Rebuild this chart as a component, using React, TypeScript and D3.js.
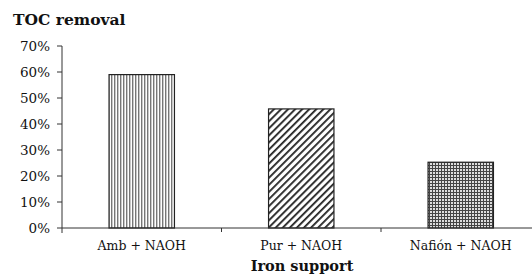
import React from "react";
import * as d3 from "d3";

// data
const supports = ["Amb + NAOH", "Pur + NAOH", "Nafión + NAOH"];
const tocRemoval = [0.59, 0.458, 0.253];
const yTicks = [0, 0.1, 0.2, 0.3, 0.4, 0.5, 0.6, 0.7];
const patterns = ["vstripe", "diag", "grid"];

const W = 532;
const H = 275;
const font = "DejaVu Serif, serif";

export default function App() {
  const x = d3.scaleBand<string>().domain(supports).range([62, 540.5]).paddingInner(0.59).paddingOuter(0.295);
  const y = d3.scaleLinear().domain([0, 0.7]).range([228, 46]);
  const fmt = d3.format(".0%");
  const step = x.step();
  const x0 = x.range()[0];

  return (
    <svg width={W} height={H} fontFamily={font} style={{ position: "absolute", left: 0, top: 0, background: "#fff" }}>
      <defs>
        <pattern id="vstripe" width={3} height={4} patternUnits="userSpaceOnUse">
          <rect width={3} height={4} fill="#fff" />
          <rect width={1.4} height={4} fill="#777" />
        </pattern>
        <pattern id="diag" width={5} height={5} patternUnits="userSpaceOnUse" patternTransform="rotate(45)">
          <rect width={5} height={5} fill="#fff" />
          <rect width={1.8} height={5} fill="#222" />
        </pattern>
        <pattern id="grid" width={3} height={3} patternUnits="userSpaceOnUse">
          <rect width={3} height={3} fill="#ddd" />
          <rect width={3} height={1} fill="#444" />
          <rect width={1} height={3} fill="#444" />
        </pattern>
      </defs>

      <text x={13} y={25} fontWeight="bold" fontSize={15.5} fill="#111">
        TOC removal
      </text>

      {/* y axis */}
      <line x1={62} x2={62} y1={y(0.7)} y2={y(0) + 5} stroke="#333" />
      {yTicks.map((t) => (
        <g key={t}>
          <line x1={57} x2={62} y1={y(t)} y2={y(t)} stroke="#333" />
          <text x={50} y={y(t)} dy="0.35em" textAnchor="end" fontSize={13.5} fill="#111">
            {fmt(t)}
          </text>
        </g>
      ))}

      {/* bars */}
      {supports.map((s, i) => (
        <rect
          key={s}
          x={x(s)}
          y={y(tocRemoval[i])}
          width={x.bandwidth()}
          height={y(0) - y(tocRemoval[i])}
          fill={`url(#${patterns[i]})`}
          stroke="#222"
          strokeWidth={1.2}
        />
      ))}

      {/* x axis */}
      <line x1={62} x2={540} y1={y(0)} y2={y(0)} stroke="#333" />
      {supports.slice(1).map((s, i) => (
        <line key={s} x1={x0 + step * (i + 1)} x2={x0 + step * (i + 1)} y1={y(0)} y2={y(0) + 4} stroke="#333" />
      ))}
      {supports.map((s) => (
        <text
          key={s}
          x={(x(s) ?? 0) + x.bandwidth() / 2}
          y={250}
          textAnchor="middle"
          fontSize={12.5}
          fill="#111"
        >
          {s}
        </text>
      ))}
      <text x={302} y={271} textAnchor="middle" fontWeight="bold" fontSize={14.5} fill="#111">
        Iron support
      </text>
    </svg>
  );
}
